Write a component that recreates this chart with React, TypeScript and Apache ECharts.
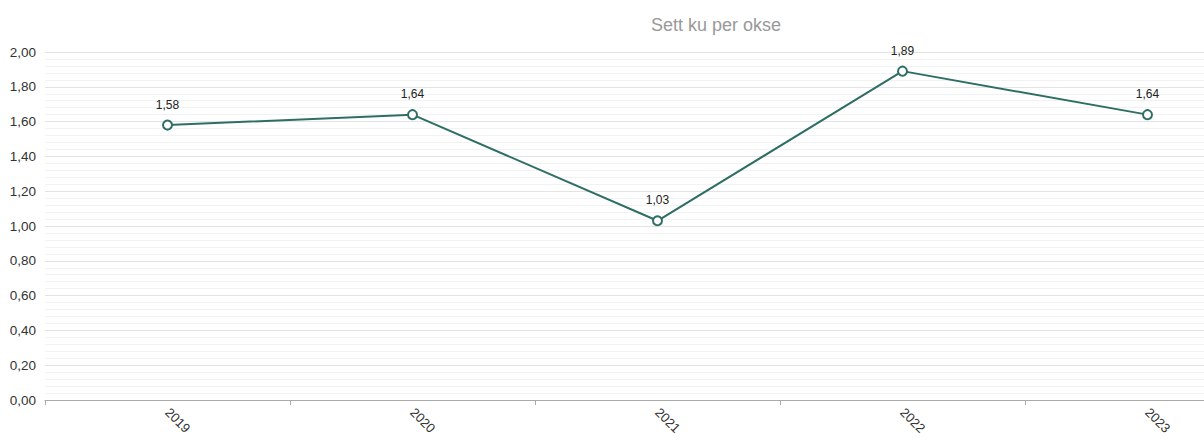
import React, { useEffect, useRef } from "react";
import * as echarts from "echarts";

const categories = ["2019", "2020", "2021", "2022", "2023"];
const values = [1.58, 1.64, 1.03, 1.89, 1.64];
const titleText = "Sett ku per okse";

const fmt = (v: number) => v.toFixed(2).replace(".", ",");

export default function App() {
  const ref = useRef<HTMLDivElement>(null);
  useEffect(() => {
    document.body.style.margin = "0";
    document.body.style.overflow = "hidden";
    const chart = echarts.init(ref.current!, null, { renderer: "svg" });
    chart.setOption({
      animation: false,
      textStyle: { fontFamily: "Liberation Sans, Arial, sans-serif" },
      title: {
        text: titleText,
        left: 646,
        top: 11,
        textStyle: { fontSize: 18, fontWeight: "normal", color: "#999999" },
      },
      grid: { left: 45, top: 52, width: 1225, height: 348 },
      xAxis: {
        type: "category",
        data: categories,
        boundaryGap: true,
        axisLine: { lineStyle: { color: "#aaaaaa", width: 1 } },
        axisTick: { show: true, length: 5, lineStyle: { color: "#aaaaaa" } },
        axisLabel: { rotate: -45, color: "#333333", fontSize: 13, margin: 10 },
        splitLine: { show: false },
      },
      yAxis: {
        type: "value",
        min: 0,
        max: 2,
        interval: 0.2,
        axisLine: { show: false },
        axisTick: { show: false },
        axisLabel: { formatter: (v: number) => fmt(v), color: "#333333", fontSize: 13.5, margin: 9 },
        splitLine: { show: true, lineStyle: { color: "#e3e3e3", width: 1 } },
        minorTick: { show: false, splitNumber: 5 },
        minorSplitLine: { show: true, lineStyle: { color: "#f2f2f2", width: 1 } },
      },
      series: [
        {
          type: "line",
          data: values,
          symbol: "emptyCircle",
          symbolSize: 9,
          lineStyle: { color: "#2e6e64", width: 2 },
          itemStyle: { color: "#2e6e64", borderWidth: 2 },
          label: {
            show: true,
            position: "top",
            distance: 9,
            formatter: (p: any) => fmt(p.value),
            color: "#222222",
            fontSize: 12,
          },
        },
      ],
    });
    return () => chart.dispose();
  }, []);
  return <div ref={ref} style={{ width: 1290, height: 441 }} />;
}
